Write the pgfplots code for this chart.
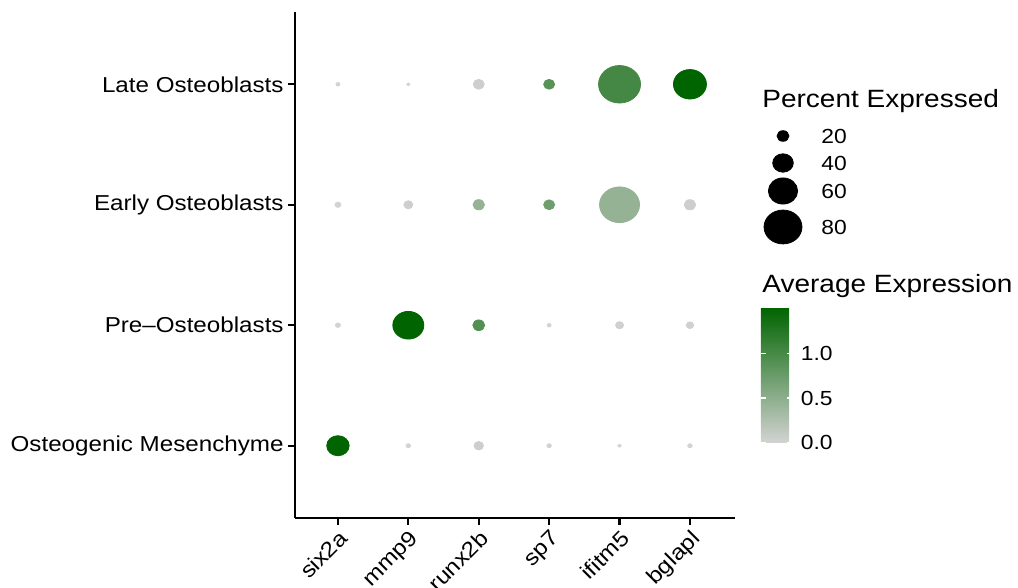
\documentclass[border=0pt]{standalone}
\usepackage{fontspec}
\setmainfont{Liberation Sans}[FakeStretch=1.12]
\usepackage{pgfplots}
\usepackage{pgfplotstable}
\pgfplotsset{compat=1.18}

\pgfplotstableread{
x y pct avg
0 3 1.6 0.0
1 3 0.0 0.0
2 3 17.8 0.05
3 3 17.8 0.88
4 3 89.4 1.01
5 3 68.6 1.50
0 2 6.2 0.0
1 2 13.2 0.05
2 2 18.9 0.44
3 2 17.8 0.72
4 2 84.8 0.44
5 2 18.9 0.05
0 1 3.9 0.0
1 1 64.0 1.51
2 1 20.0 0.90
3 1 1.6 0.0
4 1 10.9 0.03
5 1 9.7 0.03
0 0 44.3 1.51
1 0 2.8 0.0
2 0 14.3 0.05
3 0 2.8 0.0
4 0 0.5 0.0
5 0 2.8 0.0
}\dotdata

\pgfplotstableread{
x y pct lab
244 191 20 20
244 177.5 40 40
244 163.5 60 60
244 145.5 80 80
}\sizeleg

\begin{document}
\begin{tikzpicture}
\useasboundingbox (-147.5pt,-35pt) rectangle (361.5pt,259pt);
\begin{axis}[
  at={(0,0)}, anchor=south west,
  scale only axis, width=220pt, height=253pt,
  xmin=-0.61, xmax=5.64, ymin=-0.6, ymax=3.6,
  axis lines=left,
  axis line style={-, line width=1.3pt},
  xtick={0,1,2,3,4,5},
  xticklabels={six2a,mmp9,runx2b,sp7,ifitm5,bglapl},
  ytick={0,1,2,3},
  yticklabels={Osteogenic Mesenchyme,Pre\textendash Osteoblasts,Early Osteoblasts,Late Osteoblasts},
  tick align=outside,
  major tick length=3.5pt,
  every tick/.style={black, line width=1.1pt},
  xtick pos=bottom, ytick pos=left,
  ticklabel style={font=\fontsize{10.8}{13}\selectfont, text=black},
  xticklabel style={rotate=45, anchor=north east, inner sep=1.2pt},
  yticklabel style={inner sep=2pt},
  colormap={gg}{rgb255=(211,211,211) rgb255=(0,100,0)},
  point meta min=0, point meta max=1.51,
  colorbar,
  colorbar style={
    at={(parent axis.south east)}, anchor=south west,
    xshift=4.35pt, yshift=37.65pt,
    scale only axis, width=15.5pt, height=67.5pt,
    ytick={0,0.5,1}, yticklabels={0.0,0.5,1.0},
    yticklabel pos=right,
    ytick pos=both,
    tick align=inside,
    major tick length=2.5pt,
    every tick/.style={white, line width=0.6pt},
    axis line style={draw=none},
    yticklabel style={font=\fontsize{10.2}{12}\selectfont, xshift=1pt},
  },
  clip=false,
]
\addplot[scatter, only marks, mark=*,
  scatter/use mapped color={draw=mapped color, fill=mapped color},
  point meta=\thisrow{avg},
  visualization depends on={\thisrow{pct} \as \pct},
  scatter/@pre marker code/.append style={/tikz/mark size={(3.3+0.433*\pct)/4.48}, /tikz/xscale=1.12},
] table[x=x, y=y] {\dotdata};
\end{axis}
\begin{axis}[
  at={(0,0)}, anchor=south west,
  scale only axis, width=220pt, height=253pt,
  xmin=0, xmax=220, ymin=0, ymax=253,
  hide axis, clip=false,
]
\addplot[scatter, only marks, mark=*,
  scatter/use mapped color={draw=black, fill=black},
  point meta=\thisrow{pct},
  visualization depends on={\thisrow{pct} \as \pct},
  scatter/@pre marker code/.append style={/tikz/mark size={(3.3+0.433*\pct)/4.48}, /tikz/xscale=1.12},
] table[x=x, y=y] {\sizeleg};
\addplot[only marks, mark=none,
  nodes near coords, point meta=explicit symbolic,
  every node near coord/.append style={anchor=west, inner sep=0pt, font=\fontsize{10.2}{12}\selectfont},
] table[x expr=\thisrow{x}+19, y=y, meta=lab] {\sizeleg};
\node[anchor=base west, inner sep=0pt, font=\fontsize{12.5}{15}\selectfont] at (axis cs:233.5,205) {Percent Expressed};
\node[anchor=base west, inner sep=0pt, font=\fontsize{12.5}{15}\selectfont] at (axis cs:233.5,112.5) {Average Expression};
\end{axis}
\end{tikzpicture}
\end{document}
